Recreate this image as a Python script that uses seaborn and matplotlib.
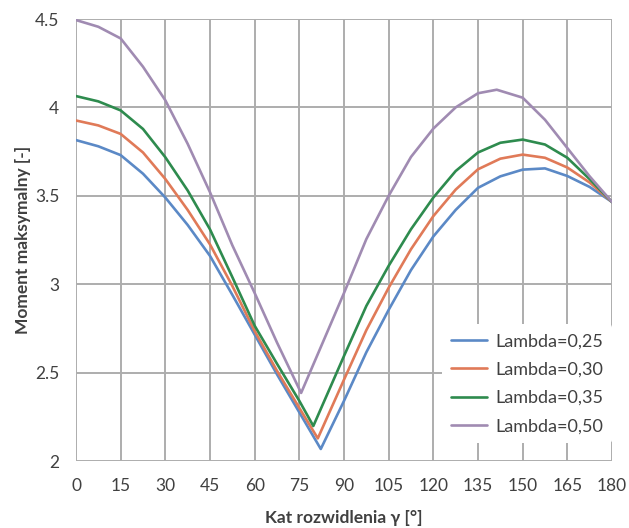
import matplotlib
matplotlib.use("Agg")
import matplotlib.pyplot as plt
import seaborn as sns
import pandas as pd
from matplotlib.ticker import FuncFormatter

# ---- data ----
series_names = ["Lambda=0,25", "Lambda=0,30", "Lambda=0,35", "Lambda=0,50"]

x_025 = [0, 7.5, 15, 22.5, 30, 37.5, 45, 52.5, 60, 67.5, 75, 82.2, 90, 97.5, 105, 112.5, 120, 127.5, 135, 142.5, 150, 157.5, 165, 172.5, 180]
y_025 = [3.815, 3.78, 3.73, 3.625, 3.49, 3.335, 3.16, 2.94, 2.715, 2.49, 2.275, 2.068, 2.34, 2.615, 2.855, 3.08, 3.27, 3.42, 3.545, 3.61, 3.648, 3.655, 3.612, 3.55, 3.465]

x_030 = [0, 7.5, 15, 22.5, 30, 37.5, 45, 52.5, 60, 67.5, 75, 81.2, 90, 97.5, 105, 112.5, 120, 127.5, 135, 142.5, 150, 157.5, 165, 172.5, 180]
y_030 = [3.926, 3.898, 3.85, 3.745, 3.595, 3.42, 3.225, 2.99, 2.735, 2.51, 2.30, 2.128, 2.46, 2.74, 2.98, 3.198, 3.385, 3.535, 3.65, 3.71, 3.733, 3.715, 3.66, 3.575, 3.465]

x_035 = [0, 7.5, 15, 22.5, 30, 37.5, 45, 52.5, 60, 67.5, 75, 79.7, 90, 97.5, 105, 112.5, 120, 127.5, 135, 142.5, 150, 157.5, 165, 172.5, 180]
y_035 = [4.064, 4.034, 3.983, 3.878, 3.718, 3.53, 3.31, 3.04, 2.765, 2.55, 2.34, 2.198, 2.594, 2.877, 3.104, 3.311, 3.49, 3.64, 3.745, 3.80, 3.818, 3.79, 3.715, 3.594, 3.465]

x_050 = [0, 7.5, 15, 22.5, 30, 37.5, 45, 52.5, 60, 67.5, 75.6, 90, 97.5, 105, 112.5, 120, 127.5, 135, 141.3, 150, 157.5, 165, 172.5, 180]
y_050 = [4.494, 4.456, 4.39, 4.23, 4.04, 3.794, 3.52, 3.22, 2.95, 2.67, 2.385, 2.95, 3.255, 3.5, 3.72, 3.88, 4.0, 4.08, 4.10, 4.055, 3.93, 3.77, 3.61, 3.465]

x_ticks = list(range(0, 181, 15))
y_ticks = [2, 2.5, 3, 3.5, 4, 4.5]

colors = ["#5b89c6", "#e07a58", "#2e8b4e", "#a08bb2"]

frames = []
for name, xs, ys in zip(series_names,
                        [x_025, x_030, x_035, x_050],
                        [y_025, y_030, y_035, y_050]):
    frames.append(pd.DataFrame({"gamma": xs, "moment": ys, "series": name}))
df = pd.concat(frames, ignore_index=True)

sns.set_style("white")
plt.rcParams["font.family"] = ["Lato", "DejaVu Sans"]

fig = plt.figure(figsize=(6.29, 5.28), dpi=100)
ax = fig.add_axes([76 / 629, 1 - 461 / 528, 536 / 629, 442 / 528])

sns.lineplot(data=df, x="gamma", y="moment", hue="series", palette=colors,
             hue_order=series_names, estimator=None, sort=True,
             linewidth=1.9, ax=ax, zorder=3)
for ln in ax.lines:
    ln.set_solid_joinstyle("round")

grid_color = "#adadad"
ax.set_xlim(0, 180)
ax.set_ylim(2, 4.5)
ax.set_xticks(x_ticks)
ax.set_yticks(y_ticks)
ax.yaxis.set_major_formatter(FuncFormatter(lambda v, p: f"{v:g}"))
ax.grid(True, color=grid_color, linewidth=1.4, zorder=0)
for s in ax.spines.values():
    s.set_visible(False)
ax.tick_params(axis="both", which="major", length=6, width=1.4, color=grid_color,
               labelsize=12.5, labelcolor="#404040", direction="out", pad=6)

ax.set_xlabel("Kat rozwidlenia γ [°]", fontsize=12.5, fontweight="bold",
              color="#404040", labelpad=12)
ax.set_ylabel("Moment maksymalny [-]", fontsize=12.5, fontweight="bold",
              color="#404040", labelpad=3)

leg = ax.legend(loc="lower right", bbox_to_anchor=(1.0, 0.04), frameon=True,
                fontsize=13, handlelength=2.0, handletextpad=0.45,
                labelspacing=0.68, borderpad=0.5, borderaxespad=0.0)
leg.get_frame().set_facecolor("white")
leg.get_frame().set_edgecolor("none")
leg.get_frame().set_alpha(1.0)
leg.set_zorder(5)
for t in leg.get_texts():
    t.set_color("#404040")

fig.savefig("out.png", dpi=100)
